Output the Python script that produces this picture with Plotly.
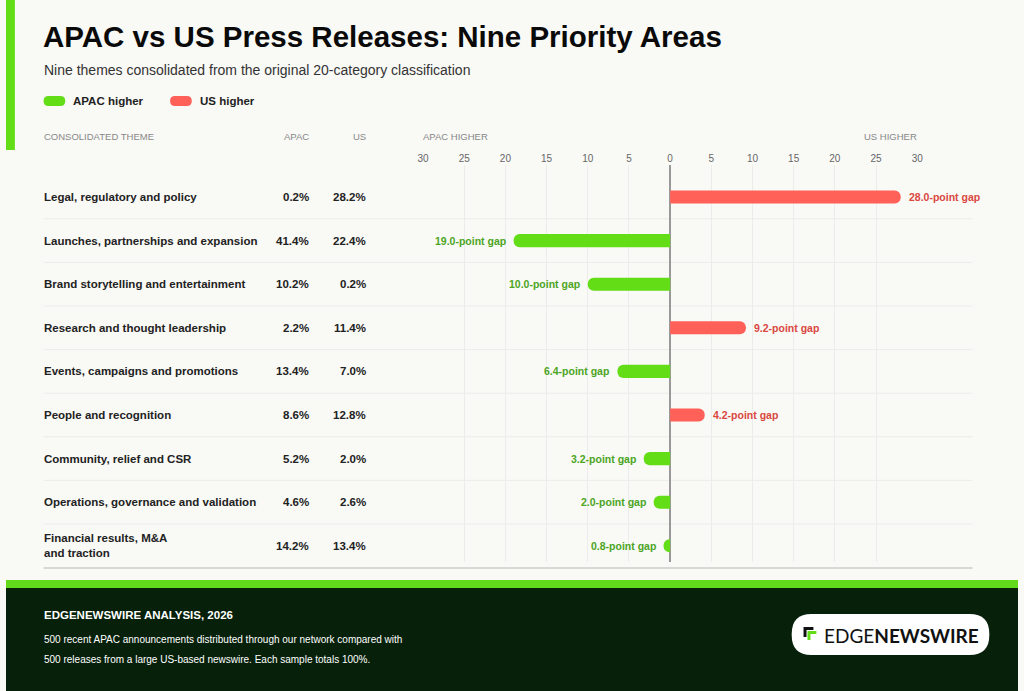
import plotly.graph_objects as go

# data
themes = [
    "Legal, regulatory and policy",
    "Launches, partnerships and expansion",
    "Brand storytelling and entertainment",
    "Research and thought leadership",
    "Events, campaigns and promotions",
    "People and recognition",
    "Community, relief and CSR",
    "Operations, governance and validation",
    "Financial results, M&A<br>and traction",
]
apac_share = [0.2, 41.4, 10.2, 2.2, 13.4, 8.6, 5.2, 4.6, 14.2]
us_share = [28.2, 22.4, 0.2, 11.4, 7.0, 12.8, 2.0, 2.6, 13.4]
tick_vals = [-30, -25, -20, -15, -10, -5, 0, 5, 10, 15, 20, 25, 30]
tick_text = ["30", "25", "20", "15", "10", "5", "0", "5", "10", "15", "20", "25", "30"]

W, H = 1024, 691
GREEN = "#63dd16"
RED = "#ff6159"
GREEN_TXT = "#4ca51e"
RED_TXT = "#d9473f"
BG = "#f9f9f6"
FONT = "Liberation Sans, Arial, sans-serif"


def px(x):
    return x / W


def py(y):
    return 1 - y / H


def pill(x0, y0, x1, y1, r):
    # rounded rectangle path in paper units, given pixel box
    rx, ry = r / W, r / H
    a, b, c, d = px(x0), py(y1), px(x1), py(y0)
    return (f"M{a + rx},{b} L{c - rx},{b} Q{c},{b} {c},{b + ry} L{c},{d - ry} "
            f"Q{c},{d} {c - rx},{d} L{a + rx},{d} Q{a},{d} {a},{d - ry} "
            f"L{a},{b + ry} Q{a},{b} {a + rx},{b} Z")


gap = [round(u - a, 1) for a, u in zip(apac_share, us_share)]
rows = list(range(len(themes)))
colors = [RED if g > 0 else GREEN for g in gap]

# row geometry (pixels)
ROW0, ROWH = 197, 43.6
GRID_TOP, GRID_BOT = 165, 562
y_top = (GRID_TOP - ROW0) / ROWH
y_bot = (GRID_BOT - ROW0) / ROWH

fig = go.Figure()
fig.add_trace(go.Bar(
    y=rows, x=gap, orientation="h",
    marker=dict(color=colors, cornerradius=6.5, line=dict(width=0)),
    width=0.3, hoverinfo="skip", showlegend=False,
))

annotations = []
shapes = []

for i, g in enumerate(gap):
    annotations.append(dict(
        x=g, y=i, xref="x", yref="y", text=f"{abs(g):.1f}-point gap",
        showarrow=False, xanchor="left" if g > 0 else "right",
        xshift=6 if g > 0 else -6,
        font=dict(size=10.5, color=RED_TXT if g > 0 else GREEN_TXT, family=FONT, weight="bold"),
    ))
    yc = py(ROW0 + ROWH * i)
    annotations.append(dict(
        x=px(36), y=yc, xref="paper", yref="paper", text=themes[i], showarrow=False,
        xanchor="left", yanchor="middle", align="left",
        font=dict(size=11.5, color="#222222", family=FONT, weight="bold"),
    ))
    for val, xr in ((apac_share[i], 309), (us_share[i], 366)):
        annotations.append(dict(
            x=px(xr), y=yc, xref="paper", yref="paper", text=f"{val:.1f}%",
            showarrow=False, xanchor="right", yanchor="middle",
            font=dict(size=11.5, color="#222222", family=FONT, weight="bold"),
        ))
    if i < len(gap) - 1:
        ys = py(ROW0 + ROWH * (i + 0.5))
        shapes.append(dict(type="line", xref="paper", yref="paper", x0=px(38), x1=px(978),
                           y0=ys, y1=ys, line=dict(color="#ececec", width=1), layer="below"))

# bottom rule of the table
shapes.append(dict(type="line", xref="paper", yref="paper", x0=px(38), x1=px(978),
                   y0=py(568), y1=py(568), line=dict(color="#cccccc", width=1.5)))

# header row
for text, x, anchor in (("CONSOLIDATED THEME", 36, "left"), ("APAC", 309, "right"),
                        ("US", 366, "right"), ("APAC HIGHER", 420, "left"),
                        ("US HIGHER", 924, "right")):
    annotations.append(dict(x=px(x), y=py(136), xref="paper", yref="paper", text=text,
                            showarrow=False, xanchor=anchor, yanchor="middle",
                            font=dict(size=9.5, color="#888888", family=FONT)))

# title, subtitle
annotations.append(dict(x=px(35), y=py(36), xref="paper", yref="paper",
                        text="APAC vs US Press Releases: Nine Priority Areas", showarrow=False,
                        xanchor="left", yanchor="middle",
                        font=dict(size=29.5, color="#0a0a0a", family=FONT, weight="bold")))
annotations.append(dict(x=px(36), y=py(70), xref="paper", yref="paper",
                        text="Nine themes consolidated from the original 20-category classification",
                        showarrow=False, xanchor="left", yanchor="middle",
                        font=dict(size=14, color="#333333", family=FONT)))

# legend
for label, col, x0 in (("APAC higher", GREEN, 38), ("US higher", RED, 166)):
    shapes.append(dict(type="path", xref="paper", yref="paper", path=pill(x0, 96, x0 + 22, 106, 5),
                       fillcolor=col, line=dict(width=0)))
    annotations.append(dict(x=px(x0 + 28), y=py(101), xref="paper", yref="paper", text=label,
                            showarrow=False, xanchor="left", yanchor="middle",
                            font=dict(size=11.5, color="#222222", family=FONT, weight="bold")))

# left accent strip
shapes.append(dict(type="rect", xref="paper", yref="paper", x0=0, x1=px(9), y0=py(150), y1=1,
                   fillcolor=GREEN, line=dict(width=0)))

# footer
shapes.append(dict(type="rect", xref="paper", yref="paper", x0=0, x1=1, y0=0, y1=py(588),
                   fillcolor="#06200a", line=dict(width=0)))
shapes.append(dict(type="rect", xref="paper", yref="paper", x0=0, x1=1, y0=py(588), y1=py(580),
                   fillcolor="#62d91a", line=dict(width=0)))
annotations.append(dict(x=px(36), y=py(615), xref="paper", yref="paper",
                        text="EDGENEWSWIRE ANALYSIS, 2026", showarrow=False,
                        xanchor="left", yanchor="middle",
                        font=dict(size=11.5, color="#ffffff", family=FONT, weight="bold")))
for text, y in (("500 recent APAC announcements distributed through our network compared with", 639),
                ("500 releases from a large US-based newswire. Each sample totals 100%.", 659)):
    annotations.append(dict(x=px(36), y=py(y), xref="paper", yref="paper", text=text,
                            showarrow=False, xanchor="left", yanchor="middle",
                            font=dict(size=10, color="#ffffff", family=FONT)))

# logo badge
shapes.append(dict(type="path", xref="paper", yref="paper", path=pill(795, 614, 995, 655, 20),
                   fillcolor="#ffffff", line=dict(width=0)))


def l_mark(x, y, s, t):
    # an L-shaped corner mark (top and left arms), pixels
    pts = [(x, y), (x + s, y), (x + s, y + t), (x + t, y + t), (x + t, y + s), (x, y + s)]
    return "M" + " L".join(f"{px(a)},{py(b)}" for a, b in pts) + " Z"


shapes.append(dict(type="path", xref="paper", yref="paper", path=l_mark(807, 627, 10, 3),
                   fillcolor="#111111", line=dict(width=0)))
shapes.append(dict(type="path", xref="paper", yref="paper", path=l_mark(811, 631, 9, 3),
                   fillcolor=GREEN, line=dict(width=0)))
annotations.append(dict(x=px(826), y=py(635), xref="paper", yref="paper",
                        text="EDGE<b>NEWSWIRE</b>", showarrow=False, xanchor="left", yanchor="middle",
                        font=dict(size=19, color="#111111", family="Lato, Open Sans, sans-serif")))

fig.update_layout(
    width=W, height=H, margin=dict(l=0, r=0, t=0, b=0),
    paper_bgcolor=BG, plot_bgcolor=BG, barmode="overlay",
    font=dict(family=FONT),
    xaxis=dict(domain=[px(422), px(922)], range=[-30, 30], side="top",
               tickvals=tick_vals, ticktext=tick_text, showgrid=True, gridcolor="#ececec",
               gridwidth=1, zeroline=True, zerolinecolor="#999999", zerolinewidth=2,
               tickfont=dict(size=10, color="#666666"), ticks="", showline=False,
               fixedrange=True),
    yaxis=dict(domain=[py(GRID_BOT), py(GRID_TOP)], range=[y_bot, y_top], showticklabels=False,
               showgrid=False, zeroline=False, fixedrange=True),
    annotations=annotations, shapes=shapes,
)

fig.write_html(
    "out.html",
    config={"displayModeBar": False},
    post_script=("document.documentElement.style.overflow='hidden';"
                 "document.body.style.overflow='hidden';"
                 "document.body.style.margin='0';"
                 "document.body.style.background='#f9f9f6';"),
)
